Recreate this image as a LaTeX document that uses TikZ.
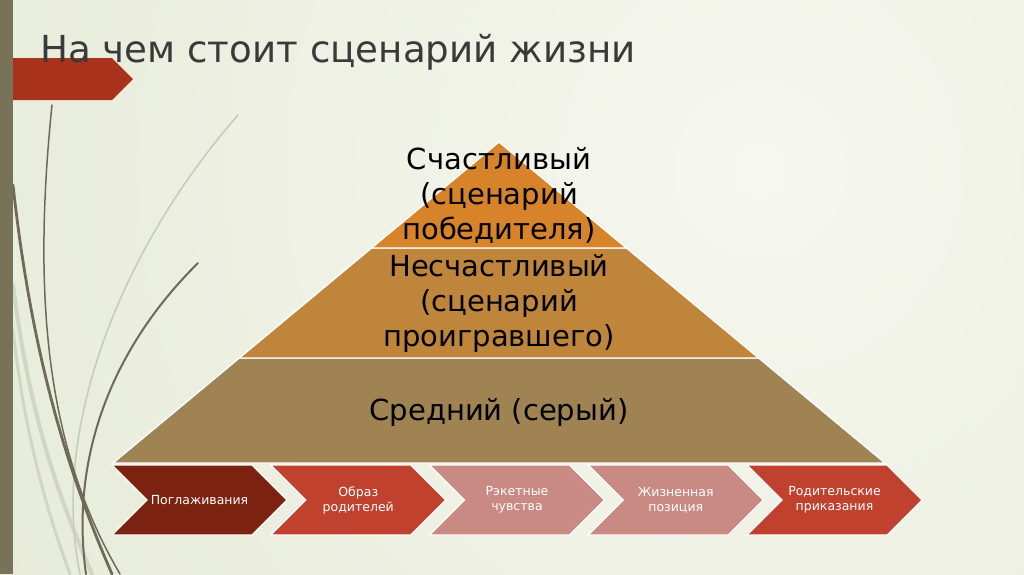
\documentclass[tikz,border=0pt]{standalone}
\usepackage{fontspec}
\setmainfont{DejaVu Sans}
\definecolor{bgin}{HTML}{F6F7F0}
\definecolor{bgout}{HTML}{E3E8D2}
\definecolor{barcol}{HTML}{787259}
\definecolor{bannercol}{HTML}{A8321A}
\definecolor{titlecol}{HTML}{3A3A3A}
\definecolor{topcol}{HTML}{D7832A}
\definecolor{midcol}{HTML}{BF853A}
\definecolor{botcol}{HTML}{9F8352}
\definecolor{chdark}{HTML}{7B2210}
\definecolor{chred}{HTML}{C0412E}
\definecolor{chpink}{HTML}{C98A84}
\definecolor{stemdark}{HTML}{6F6A55}
\definecolor{stempale}{HTML}{C7CDB8}
\tikzset{
  layer/.style={draw=white, line width=1.4pt},
  chev/.style={draw=white, line width=1.1pt},
  pyrtext/.style={align=center, text=black, font=\fontsize{29}{35}\selectfont},
  chevtext/.style={align=center, text=white, font=\fontsize{12.5}{15}\selectfont},
  darkstem/.style={draw=stemdark, line cap=round},
  palestem/.style={draw=stempale, line cap=round},
}
\begin{document}
\begin{tikzpicture}[x=1pt,y=-1pt]
\useasboundingbox (0,0) rectangle (1024,574);
% background
\begin{scope}
\clip (0,0) rectangle (1024,574);
\shade[inner color=bgin, outer color=bgout] (760,170) circle (1100);
\end{scope}
% stems
\draw[palestem, line width=4pt, opacity=0.7] (13,285) .. controls (30,420) and (60,500) .. (92,574);
\draw[palestem, line width=3pt, opacity=0.7] (13,330) .. controls (25,440) and (50,520) .. (70,574);
\draw[palestem, line width=1.6pt] (238,115) .. controls (120,250) and (50,430) .. (80,574);
\draw[darkstem, line width=2pt] (198,263) .. controls (110,350) and (70,460) .. (86,574);
\draw[darkstem, line width=2.8pt] (13,185) .. controls (30,340) and (62,460) .. (112,574);
\draw[darkstem, line width=1.5pt] (52,105) .. controls (32,300) and (47,450) .. (120,574);
% left bar
\fill[barcol] (0,0) rectangle (13,574);
% banner
\fill[bannercol] (13,58) -- (112,58) -- (133,79) -- (112,100) -- (13,100) -- cycle;
% title
\node[anchor=base west, inner sep=0pt, text=titlecol, font=\fontsize{37.2}{40}\selectfont] (title) at (40,62) {На чем стоит сценарий жизни};
% pyramid
\fill[botcol, layer] (239.3,358) -- (758.7,358) -- (885,463) -- (113,463) -- cycle;
\fill[midcol, layer] (371.5,248) -- (626.5,248) -- (758.7,358) -- (239.3,358) -- cycle;
\fill[topcol, layer] (499,142) -- (626.5,248) -- (371.5,248) -- cycle;
\node[pyrtext] (happy) at (499,195) {Счастливый\\(сценарий\\победителя)};
\node[pyrtext] (unhappy) at (499,303) {Несчастливый\\(сценарий\\проигравшего)};
\node[pyrtext] (average) at (499,412) {Средний (серый)};
% chevrons
\foreach \i/\c in {0/chdark,1/chred,2/chpink,3/chpink,4/chred}{
  \pgfmathsetmacro{\xo}{112+158.75*\i}
  \fill[\c, chev] (\xo,465) -- (\xo+140,465) -- (\xo+175,500) -- (\xo+140,535) -- (\xo,535) -- (\xo+35,500) -- cycle;
}
\node[chevtext] (c1) at (199.5,500) {Поглаживания};
\node[chevtext] (c2) at (358.25,500) {Образ\\родителей};
\node[chevtext] (c3) at (517,500) {Рэкетные\\чувства};
\node[chevtext] (c4) at (675.75,500) {Жизненная\\позиция};
\node[chevtext] (c5) at (834.5,500) {Родительские\\приказания};
\end{tikzpicture}
\end{document}
